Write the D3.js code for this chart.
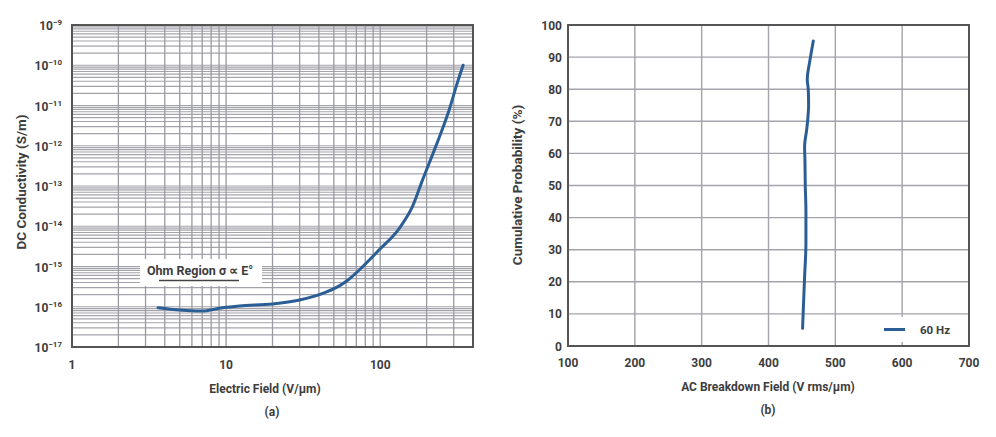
<!DOCTYPE html>
<html lang="en">
<head>
<meta charset="utf-8">
<title>Conductivity and breakdown</title>
<script src="https://cdn.jsdelivr.net/npm/d3@7"></script>
<style>
  body { margin: 0; background: #fff; }
  text { font-family: Roboto, "Noto Sans", sans-serif; font-weight: 700; fill: #3d3d3d; }
</style>
</head>
<body>
<script>
// chart (a): DC conductivity vs electric field
var fieldE = [3.62, 5.0, 6.9, 9.5, 12.2, 20, 30, 44.5, 54.3, 63, 73.1, 98.5, 133, 162, 188, 229, 280, 316, 345];
var sigma = [0.95e-16, 0.83e-16, 0.78e-16, 0.95e-16, 1.05e-16, 1.17e-16, 1.47e-16, 2.3e-16, 3.3e-16, 4.9e-16,
             8.2e-16, 2.6e-15, 8.9e-15, 3.1e-14, 1.4e-13, 9.5e-13, 7.7e-12, 3.6e-11, 1.0e-10];
var xTicksA = [1, 10, 100];
var yExpA = [-9, -10, -11, -12, -13, -14, -15, -16, -17];

// chart (b): cumulative probability vs AC breakdown field
var acField = [451, 452, 454, 456, 456, 455, 454.5, 454, 457.5, 460, 459.5, 458, 462, 467];
var prob = [5.5, 11, 21.5, 32, 42, 50, 58, 62, 68, 75, 80, 83, 89, 95];
var xTicksB = [100, 200, 300, 400, 500, 600, 700];
var yTicksB = [0, 10, 20, 30, 40, 50, 60, 70, 80, 90, 100];

var w = 996, h = 437;
var blue = "#2c5e96";
var grid = "#a3a3ab";

var svg = d3.select("body").append("svg")
  .attr("width", w).attr("height", h);

// ---------- (a) ----------
var xa = d3.scaleLog().domain([1, 400]).range([72, 473]);
var ya = d3.scaleLog().domain([1e-17, 1e-9]).range([347, 25]);

var ga = svg.append("g");

// grid
ga.selectAll("line.hg").data(ya.ticks()).enter().append("line")
  .attr("x1", xa.range()[0]).attr("x2", xa.range()[1])
  .attr("y1", function(d) { return ya(d); }).attr("y2", function(d) { return ya(d); })
  .attr("stroke", grid).attr("stroke-width", 1.2);
ga.selectAll("line.vg").data(xa.ticks()).enter().append("line")
  .attr("y1", ya.range()[0]).attr("y2", ya.range()[1])
  .attr("x1", function(d) { return xa(d); }).attr("x2", function(d) { return xa(d); })
  .attr("stroke", "#9a9aa2").attr("stroke-width", 1.3);

// annotation box (covers grid)
ga.append("rect").attr("x", 140).attr("y", 259).attr("width", 122).attr("height", 27).attr("fill", "#fff");
ga.append("text").attr("x", 147).attr("y", 275).attr("font-size", 12.5).text("Ohm Region σ ∝ E°");
ga.append("line").attr("x1", 159).attr("x2", 239).attr("y1", 280.5).attr("y2", 280.5)
  .attr("stroke", "#444").attr("stroke-width", 1.5);

// frame
ga.append("rect").attr("x", 72).attr("y", 25).attr("width", 401).attr("height", 322)
  .attr("fill", "none").attr("stroke", "#555").attr("stroke-width", 2);

// curve
var lineA = d3.line()
  .x(function(d, i) { return xa(fieldE[i]); })
  .y(function(d, i) { return ya(sigma[i]); })
  .curve(d3.curveMonotoneX);
ga.append("path").datum(fieldE).attr("d", lineA)
  .attr("fill", "none").attr("stroke", blue).attr("stroke-width", 3).attr("stroke-linecap", "round");

// ticks
ga.selectAll("text.xt").data(xTicksA).enter().append("text")
  .attr("x", function(d) { return xa(d); }).attr("y", 369)
  .attr("text-anchor", "middle").attr("font-size", 12).text(function(d) { return d; });
var yl = ga.selectAll("text.yt").data(yExpA).enter().append("text")
  .attr("x", 62).attr("y", function(d) { return ya(Math.pow(10, d)) + 5; })
  .attr("text-anchor", "end").attr("font-size", 12);
yl.append("tspan").text("10");
yl.append("tspan").attr("dy", -5).attr("font-size", 8).text(function(d) { return "−" + (-d); });

ga.append("text").attr("x", 265).attr("y", 393).attr("text-anchor", "middle").attr("font-size", 12)
  .text("Electric Field (V/μm)");
ga.append("text").attr("x", 272).attr("y", 416).attr("text-anchor", "middle").attr("font-size", 12)
  .text("(a)");
ga.append("text").attr("transform", "translate(26,182) rotate(-90)").attr("text-anchor", "middle")
  .attr("font-size", 13.5).text("DC Conductivity (S/m)");

// ---------- (b) ----------
var xb = d3.scaleLinear().domain([100, 700]).range([568, 969]);
var yb = d3.scaleLinear().domain([0, 100]).range([346, 25]);

var gb = svg.append("g");

gb.selectAll("line.hg").data(yTicksB).enter().append("line")
  .attr("x1", xb.range()[0]).attr("x2", xb.range()[1])
  .attr("y1", function(d) { return yb(d); }).attr("y2", function(d) { return yb(d); })
  .attr("stroke", grid).attr("stroke-width", 1.4);
gb.selectAll("line.vg").data(xTicksB).enter().append("line")
  .attr("y1", yb.range()[0]).attr("y2", yb.range()[1])
  .attr("x1", function(d) { return xb(d); }).attr("x2", function(d) { return xb(d); })
  .attr("stroke", grid).attr("stroke-width", 1.4);

// legend box
gb.append("rect").attr("x", 876).attr("y", 317).attr("width", 88).attr("height", 25).attr("fill", "#fff");
gb.append("line").attr("x1", 884).attr("x2", 905).attr("y1", 329.5).attr("y2", 329.5)
  .attr("stroke", blue).attr("stroke-width", 3);
gb.append("text").attr("x", 920).attr("y", 334).attr("font-size", 11.5).text("60 Hz");

gb.append("rect").attr("x", 568).attr("y", 25).attr("width", 401).attr("height", 321)
  .attr("fill", "none").attr("stroke", "#555").attr("stroke-width", 2);

var lineB = d3.line()
  .x(function(d, i) { return xb(acField[i]); })
  .y(function(d, i) { return yb(prob[i]); })
  .curve(d3.curveMonotoneY);
gb.append("path").datum(prob).attr("d", lineB)
  .attr("fill", "none").attr("stroke", blue).attr("stroke-width", 3).attr("stroke-linecap", "round");

gb.selectAll("text.xt").data(xTicksB).enter().append("text")
  .attr("x", function(d) { return xb(d); }).attr("y", 367)
  .attr("text-anchor", "middle").attr("font-size", 12).text(function(d) { return d; });
gb.selectAll("text.yt").data(yTicksB).enter().append("text")
  .attr("x", 562).attr("y", function(d) { return yb(d) + 4.5; })
  .attr("text-anchor", "end").attr("font-size", 12).text(function(d) { return d; });

gb.append("text").attr("x", 768).attr("y", 391).attr("text-anchor", "middle").attr("font-size", 12)
  .text("AC Breakdown Field (V rms/μm)");
gb.append("text").attr("x", 768).attr("y", 414).attr("text-anchor", "middle").attr("font-size", 12)
  .text("(b)");
gb.append("text").attr("transform", "translate(522,185) rotate(-90)").attr("text-anchor", "middle")
  .attr("font-size", 13.5).text("Cumulative Probability (%)");
</script>
</body>
</html>
